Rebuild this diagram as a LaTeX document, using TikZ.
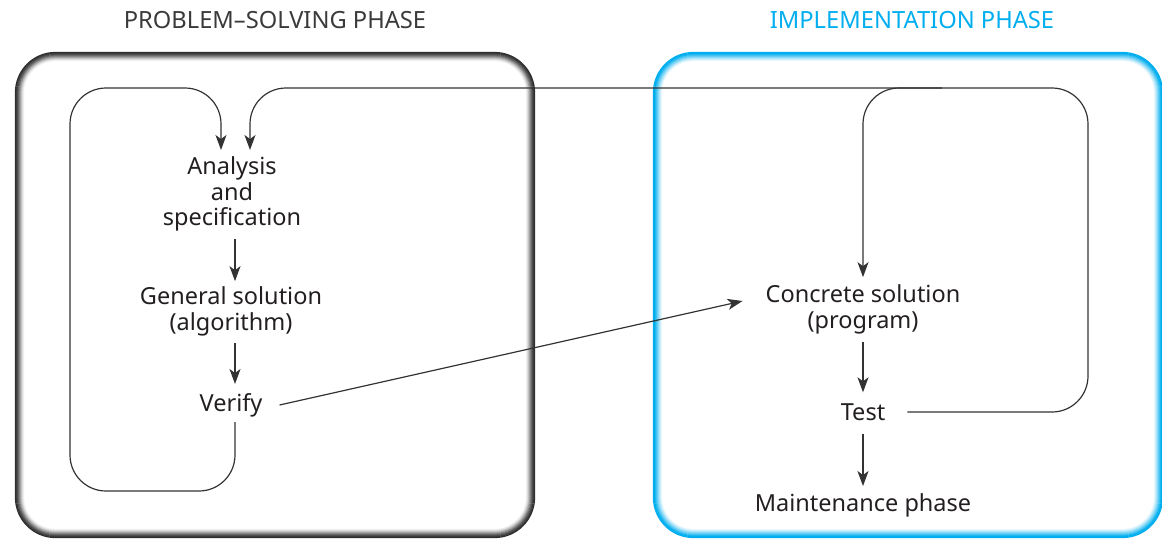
\documentclass[tikz,border=0pt]{standalone}
\usepackage{fontspec}
\setmainfont{Noto Sans}
\usetikzlibrary{arrows.meta}
\definecolor{inkc}{HTML}{231F20}
\definecolor{linec}{HTML}{333333}
\definecolor{titlec}{HTML}{3A3A3A}
\definecolor{cyanc}{HTML}{00AEEF}
\begin{document}
\begin{tikzpicture}[x=1pt,y=-1pt,
  lbl/.style={font=\fontsize{23.5}{25.8}\selectfont, text=inkc, align=center, inner sep=2pt},
  ttl/.style={font=\fontsize{23.7}{25}\selectfont, inner sep=0pt},
  flow/.style={draw=linec, line width=1.2pt, -{Stealth[length=15pt,width=11pt,inset=4pt]}},
  link/.style={draw=linec, line width=1.2pt, rounded corners=36pt}]
\useasboundingbox (0,0) rectangle (1162,542);
\clip (0,0) rectangle (1162,542);

% phase frames: a thick border that fades from its outer edge inwards
\foreach \i/\c in {8/5,7/12,6/22,5/34,4/46,3/58,2/68,1/76,0/82}{
  \pgfmathsetmacro{\r}{40-\i}
  \draw[line width=1.3pt, draw=black!\c, rounded corners=\r pt]
    ({15.5+\i},{52.5+\i}) rectangle ({534.5-\i},{537.5-\i});
}
\foreach \i/\c in {8/8,7/18,6/30,5/44,4/58,3/72,2/86,1/100,0/100}{
  \pgfmathsetmacro{\r}{40-\i}
  \draw[line width=1.3pt, draw=cyanc!\c, rounded corners=\r pt]
    ({653.5+\i},{52.5+\i}) rectangle ({1162.5-\i},{537.5-\i});
}

% phase titles
\node[ttl, text=titlec] (tps) at (275,20) {PROBLEM–SOLVING PHASE};
\node[ttl, text=cyanc] (tip) at (912,20) {IMPLEMENTATION PHASE};

% steps
\node[lbl] (ana) at (232,194) {Analysis\\and\\specification};
\node[lbl] (gen) at (231,311) {General solution\\(algorithm)};
\node[lbl] (ver) at (231,405) {Verify};
\node[lbl] (con) at (863,309) {Concrete solution\\(program)};
\node[lbl] (tst) at (863,412) {Test};
\node[lbl] (mnt) at (863,505) {Maintenance phase};

% entry points above the first step and the branch point on the top line
\coordinate (inA) at (221,150);
\coordinate (inB) at (250,150);
\coordinate (jn) at (942,88);

% straight flow
\draw[flow] ([xshift=3pt,yshift=-5pt]ana.south) -- ([xshift=4pt,yshift=3pt]gen.north);
\draw[flow] ([xshift=4pt,yshift=-5pt]gen.south) -- ([xshift=4pt,yshift=7pt]ver.north);
\draw[flow] ([yshift=-6pt]con.south) -- ([yshift=9pt]tst.north);
\draw[flow] ([yshift=-11pt]tst.south) -- ([yshift=5pt]mnt.north);
\draw[flow] ([xshift=15pt]ver.east) -- ([xshift=-21pt,yshift=8pt]con.west);

% loop from Verify back to Analysis
\draw[link, flow] ([xshift=4pt,yshift=-3pt]ver.south) -- (235,491) -- (70,491) -- (70,88) -- (221,88) -- (inA);

% loop from Test back to Concrete solution
\draw[link, flow] ([xshift=20pt]tst.east) -- (tst.east -| 1088,0) -- (1088,88) -- (863,88) -- ([yshift=5pt]con.north);

% line from the top of the Test loop back to Analysis
\draw[link, flow] (jn) -- (250,88) -- (inB);
\end{tikzpicture}
\end{document}
